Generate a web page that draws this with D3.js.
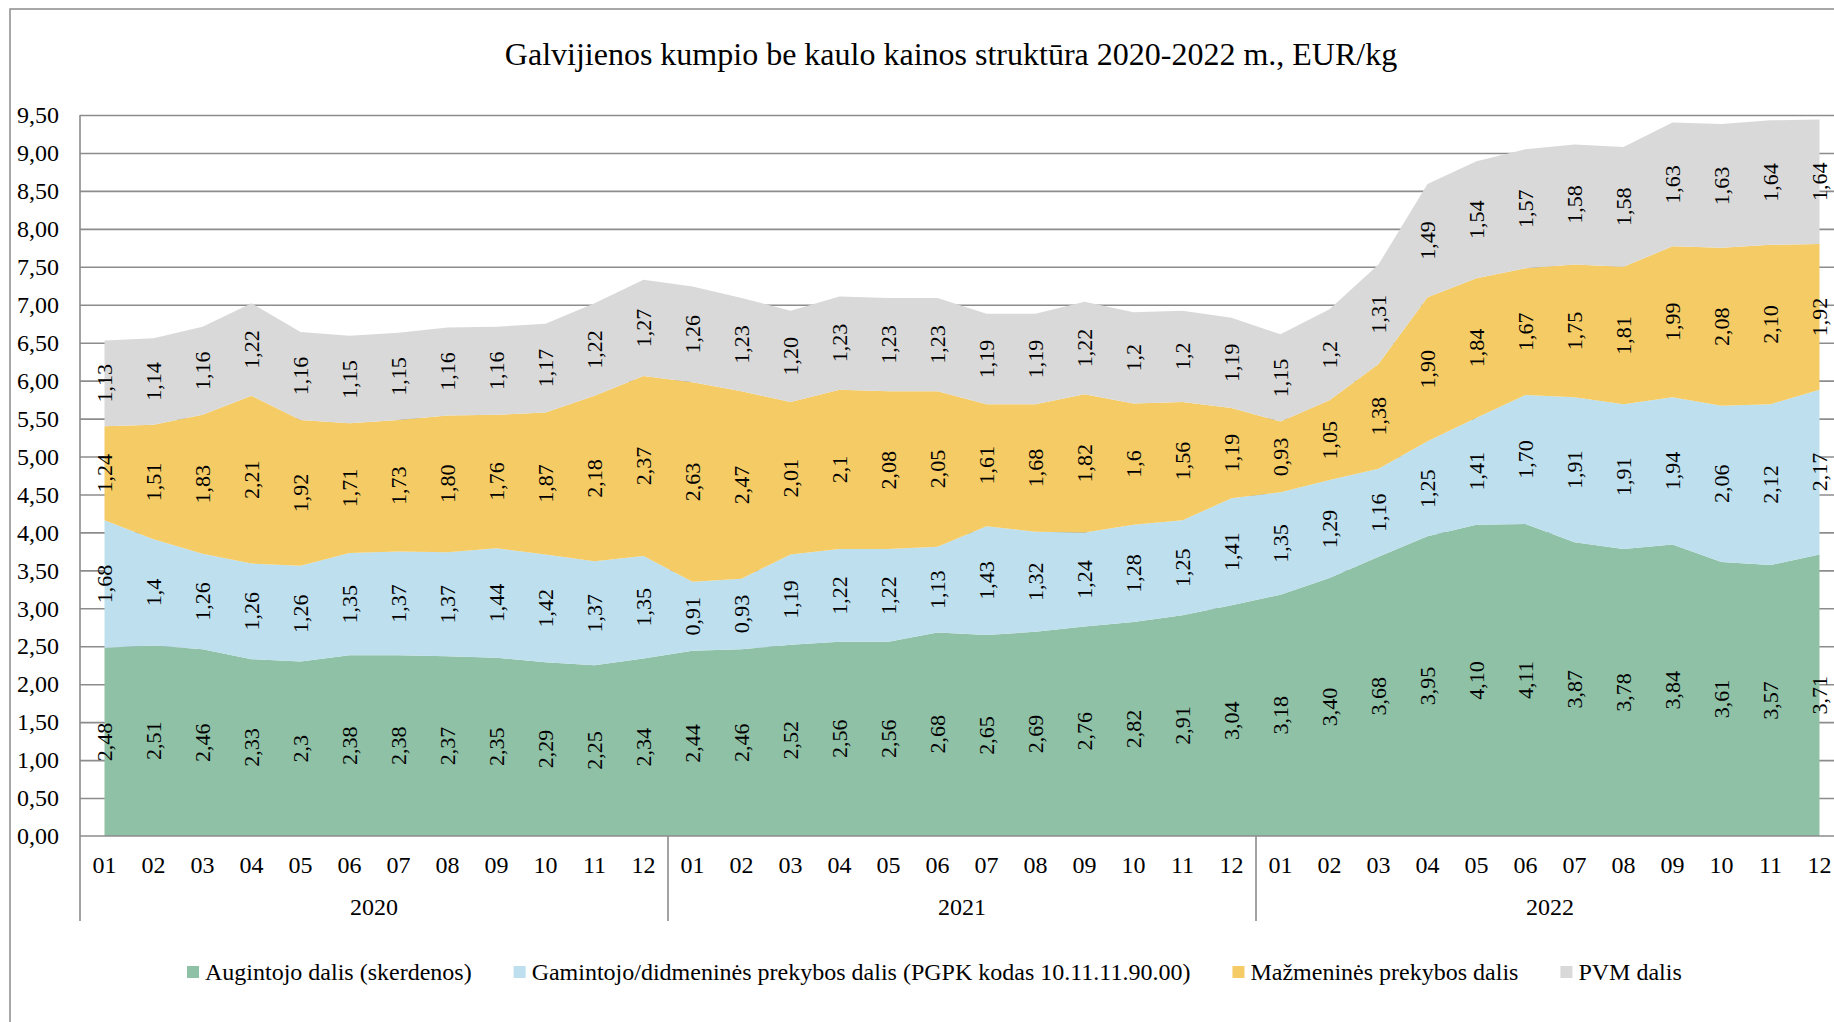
<!DOCTYPE html>
<html><head><meta charset="utf-8">
<script src="https://cdn.jsdelivr.net/npm/d3@7/dist/d3.min.js"></script>
<style>
body{margin:0;background:#fff}
svg{display:block}
text{font-family:"Liberation Serif","Times New Roman",serif;fill:#000}
</style>
</head><body>
<svg id="c" width="1834" height="1022"></svg>
<script>
const title = "Galvijienos kumpio be kaulo kainos struktūra 2020-2022 m., EUR/kg";
const years = ["2020", "2021", "2022"];
const months = ["01","02","03","04","05","06","07","08","09","10","11","12"];
const seriesNames = [
  "Augintojo dalis (skerdenos)",
  "Gamintojo/didmeninės prekybos dalis (PGPK kodas 10.11.11.90.00)",
  "Mažmeninės prekybos dalis",
  "PVM dalis"
];
const augintojo = [
  "2,48","2,51","2,46","2,33","2,3","2,38","2,38","2,37","2,35","2,29","2,25","2,34",
  "2,44","2,46","2,52","2,56","2,56","2,68","2,65","2,69","2,76","2,82","2,91","3,04",
  "3,18","3,40","3,68","3,95","4,10","4,11","3,87","3,78","3,84","3,61","3,57","3,71"];
const gamintojo = [
  "1,68","1,4","1,26","1,26","1,26","1,35","1,37","1,37","1,44","1,42","1,37","1,35",
  "0,91","0,93","1,19","1,22","1,22","1,13","1,43","1,32","1,24","1,28","1,25","1,41",
  "1,35","1,29","1,16","1,25","1,41","1,70","1,91","1,91","1,94","2,06","2,12","2,17"];
const mazmenines = [
  "1,24","1,51","1,83","2,21","1,92","1,71","1,73","1,80","1,76","1,87","2,18","2,37",
  "2,63","2,47","2,01","2,1","2,08","2,05","1,61","1,68","1,82","1,6","1,56","1,19",
  "0,93","1,05","1,38","1,90","1,84","1,67","1,75","1,81","1,99","2,08","2,10","1,92"];
const pvm = [
  "1,13","1,14","1,16","1,22","1,16","1,15","1,15","1,16","1,16","1,17","1,22","1,27",
  "1,26","1,23","1,20","1,23","1,23","1,23","1,19","1,19","1,22","1,2","1,2","1,19",
  "1,15","1,2","1,31","1,49","1,54","1,57","1,58","1,58","1,63","1,63","1,64","1,64"];
const yTicks = [0,0.5,1,1.5,2,2.5,3,3.5,4,4.5,5,5.5,6,6.5,7,7.5,8,8.5,9,9.5];
const colors = ["#8FC1A6", "#BDDFEE", "#F4CB65", "#D9D9D9"];

const num = s => parseFloat(s.replace(",", "."));
const seriesLabels = [augintojo, gamintojo, mazmenines, pvm];
const keys = ["s0","s1","s2","s3"];
const cats = [];
years.forEach(yr => months.forEach(m => cats.push({key: yr + "-" + m, year: yr, month: m})));
const rows = cats.map((c, i) => {
  const r = {key: c.key, month: c.month, year: c.year, i};
  keys.forEach((k, j) => r[k] = num(seriesLabels[j][i]));
  return r;
});

const svg = d3.select("#c");
const L = 80, R = 1844, T = 115, B = 836;
const x = d3.scaleBand().domain(cats.map(c => c.key)).range([L, R]).paddingInner(0).paddingOuter(0);
const bw = x.bandwidth();
const cx = k => x(k) + bw / 2;
const y = d3.scaleLinear().domain([0, 9.5]).range([B, T]);
const gray = "#8C8C8C";

// outer border
svg.append("rect").attr("x", 10).attr("y", 9).attr("width", 1900).attr("height", 1100)
  .attr("fill", "none").attr("stroke", gray).attr("stroke-width", 1.5);

// title
svg.append("text").attr("x", 951).attr("y", 65).attr("text-anchor", "middle")
  .style("font-size", "32px").text(title);

// gridlines
const grid = svg.append("g").attr("transform", `translate(${L},0)`)
  .call(d3.axisLeft(y).tickValues(yTicks.filter(v => v > 0)).tickSize(-(R - L)).tickFormat(""));
grid.select(".domain").remove();
grid.selectAll("line").attr("stroke", gray).attr("stroke-width", 1.6);

// areas
const stack = d3.stack().keys(keys);
const layers = stack(rows);
const area = d3.area().x(d => cx(d.data.key)).y0(d => y(d[0])).y1(d => y(d[1]));
svg.append("g").selectAll("path").data(layers).join("path")
  .attr("d", area).attr("fill", (d, i) => colors[i]);

// y axis labels
const fmt = v => d3.format(".2f")(v).replace(".", ",");
const ya = svg.append("g").attr("transform", `translate(${L},0)`)
  .call(d3.axisLeft(y).tickValues(yTicks).tickSize(0).tickPadding(21).tickFormat(fmt));
ya.select(".domain").remove();
ya.selectAll("text").style("font-size", "24px").style("font-family", '"Liberation Serif",serif');

// x axis
const xa = svg.append("g").attr("transform", `translate(0,${B})`)
  .call(d3.axisBottom(x).tickSize(0).tickPadding(20).tickFormat(k => k.slice(5)));
xa.select(".domain").remove();
xa.selectAll("text").style("font-size", "24px").style("font-family", '"Liberation Serif",serif');

// axis lines
svg.append("line").attr("x1", L).attr("x2", R).attr("y1", B).attr("y2", B)
  .attr("stroke", gray).attr("stroke-width", 1.6);
svg.append("line").attr("x1", L).attr("x2", L).attr("y1", T).attr("y2", 921)
  .attr("stroke", gray).attr("stroke-width", 1.6);
years.forEach((yr, i) => {
  const xs = x(yr + "-12") + bw;
  svg.append("line").attr("x1", xs).attr("x2", xs).attr("y1", B).attr("y2", 921)
    .attr("stroke", gray).attr("stroke-width", 1.6);
  const xm = (x(yr + "-01") + xs) / 2;
  svg.append("text").attr("x", xm).attr("y", 915).attr("text-anchor", "middle")
    .style("font-size", "24px").text(yr);
});

// data labels
const lg = svg.append("g");
layers.forEach((layer, j) => {
  layer.forEach((d, i) => {
    const px = cx(d.data.key), py = y((d[0] + d[1]) / 2);
    lg.append("text")
      .attr("transform", `translate(${px},${py}) rotate(-90)`)
      .attr("text-anchor", "middle").attr("dy", "0.35em")
      .style("font-size", "22px").text(seriesLabels[j][i]);
  });
});

// legend
const leg = svg.append("g");
let lx = 187;
const ly = 972;
seriesNames.forEach((n, i) => {
  leg.append("rect").attr("x", lx).attr("y", ly - 6).attr("width", 12).attr("height", 12).attr("fill", colors[i]);
  const t = leg.append("text").attr("x", lx + 18).attr("y", ly).attr("dy", "0.35em")
    .style("font-size", "24px").text(n);
  lx += 18 + t.node().getComputedTextLength() + 42;
});
</script>
</body></html>
